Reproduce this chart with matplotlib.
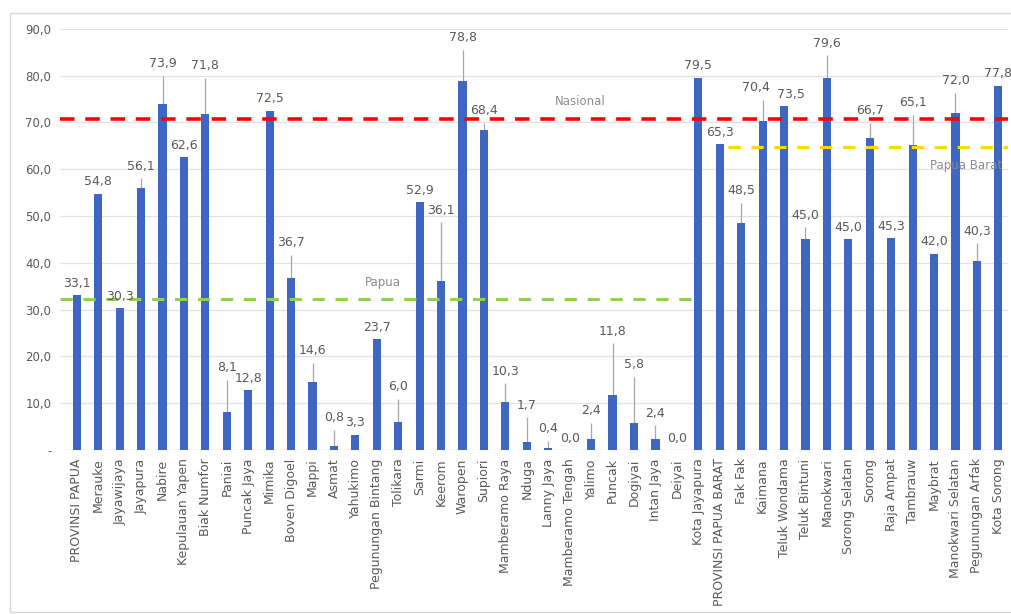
import numpy as np
import matplotlib.pyplot as plt
from matplotlib.patches import Rectangle
from matplotlib.ticker import FixedLocator

# === Data ===
regions = [
    "PROVINSI PAPUA", "Merauke", "Jayawijaya", "Jayapura", "Nabire",
    "Kepulauan Yapen", "Biak Numfor", "Paniai", "Puncak Jaya", "Mimika",
    "Boven Digoel", "Mappi", "Asmat", "Yahukimo", "Pegunungan Bintang",
    "Tolikara", "Sarmi", "Keerom", "Waropen", "Supiori",
    "Mamberamo Raya", "Nduga", "Lanny Jaya", "Mamberamo Tengah", "Yalimo",
    "Puncak", "Dogiyai", "Intan Jaya", "Deiyai", "Kota Jayapura",
    "PROVINSI PAPUA BARAT", "Fak Fak", "Kaimana", "Teluk Wondama", "Teluk Bintuni",
    "Manokwari", "Sorong Selatan", "Sorong", "Raja Ampat", "Tambrauw",
    "Maybrat", "Manokwari Selatan", "Pegunungan Arfak", "Kota Sorong",
]
values = [
    33.1, 54.8, 30.3, 56.1, 73.9,
    62.6, 71.8, 8.1, 12.8, 72.5,
    36.7, 14.6, 0.8, 3.3, 23.7,
    6.0, 52.9, 36.1, 78.8, 68.4,
    10.3, 1.7, 0.4, 0.0, 2.4,
    11.8, 5.8, 2.4, 0.0, 79.5,
    65.3, 48.5, 70.4, 73.5, 45.0,
    79.6, 45.0, 66.7, 45.3, 65.1,
    42.0, 72.0, 40.3, 77.8,
]
# upper error (only the upward whisker is visible)
err_up = [
    0.0, 0.0, 0.0, 2.0, 6.1,
    0.0, 7.7, 6.9, 0.0, 0.0,
    5.0, 4.0, 3.5, 0.0, 0.0,
    5.0, 0.0, 12.6, 6.7, 1.5,
    4.0, 5.3, 1.6, 0.0, 3.4,
    11.0, 9.8, 2.9, 0.0, 0.0,
    0.0, 4.3, 4.4, 0.0, 2.6,
    4.8, 0.0, 3.2, 0.0, 6.5,
    0.0, 4.3, 3.9, 0.0,
]
nasional = 70.8
papua = 32.3
papua_barat = 64.7

bar_color = "#3F66C2"
text_gray = "#595959"

fig = plt.figure(figsize=(10.11, 6.14), dpi=100)
ax = fig.add_axes([0.059, 0.267, 0.938, 0.686])

x = np.arange(len(regions))
vals = np.array(values)
errs = np.array(err_up)

ax.bar(x, vals, width=0.38, color=bar_color, zorder=3)
mask = errs > 0
ax.vlines(x[mask], vals[mask], vals[mask] + errs[mask], color="#A6A6A6", lw=0.9, zorder=2)

# small horizontal nudges where neighbouring labels collide
nudge = {"Kaimana": -5, "Teluk Wondama": 5}
for xi, name, v, e in zip(x, regions, vals, errs):
    ax.annotate(f"{v:.1f}".replace(".", ","), (xi, v + e), xytext=(nudge.get(name, 0), 4),
                textcoords="offset points", ha="center", va="bottom",
                fontsize=9, color=text_gray, zorder=5)

# reference lines
i_pb = regions.index("PROVINSI PAPUA BARAT")
i_kj = regions.index("Kota Jayapura")
ax.axhline(nasional, color="#FF0000", lw=2.6, ls=(0, (4, 3)), zorder=4)
ax.plot([-0.8, i_kj], [papua, papua], color="#92D050", lw=2.2, ls=(0, (4, 3.5)), zorder=4)
ax.plot([i_pb + 0.4, len(regions)], [papua_barat, papua_barat], color="#FFD700",
        lw=2.2, ls=(0, (4, 3.5)), zorder=4)
ax.text(23.5, nasional + 2.2, "Nasional", fontsize=8.5, color="#8C8C8C", ha="center", va="bottom")
ax.text(14.3, papua + 2.2, "Papua", fontsize=8.5, color="#8C8C8C", ha="center", va="bottom")
ax.text(41.5, papua_barat - 2.5, "Papua Barat", fontsize=8.5, color="#8C8C8C", ha="center", va="top")

ax.set_xlim(-0.8, 43.45)
ax.set_ylim(0, 90)
ax.yaxis.set_major_locator(FixedLocator(np.arange(0, 91, 10)))
ax.set_yticklabels(["-"] + [f"{t:.1f}".replace(".", ",") for t in np.arange(10, 91, 10)],
                   fontsize=8.5, color=text_gray)
ax.set_xticks(x)
ax.set_xticklabels(regions, rotation=90, fontsize=9, color=text_gray)
ax.tick_params(length=0, pad=6)
ax.grid(axis="y", color="#E3E3E3", lw=0.9, zorder=0)
for s in ax.spines.values():
    s.set_visible(False)
ax.axhline(0, color="#D9D9D9", lw=0.9, zorder=1)

# chart frame
fig.patches.append(Rectangle((0.01, 0.003), 1.0, 0.976, transform=fig.transFigure,
                             fill=False, edgecolor="#D9D9D9", lw=1.0))

fig.savefig("out.png", dpi=100)
